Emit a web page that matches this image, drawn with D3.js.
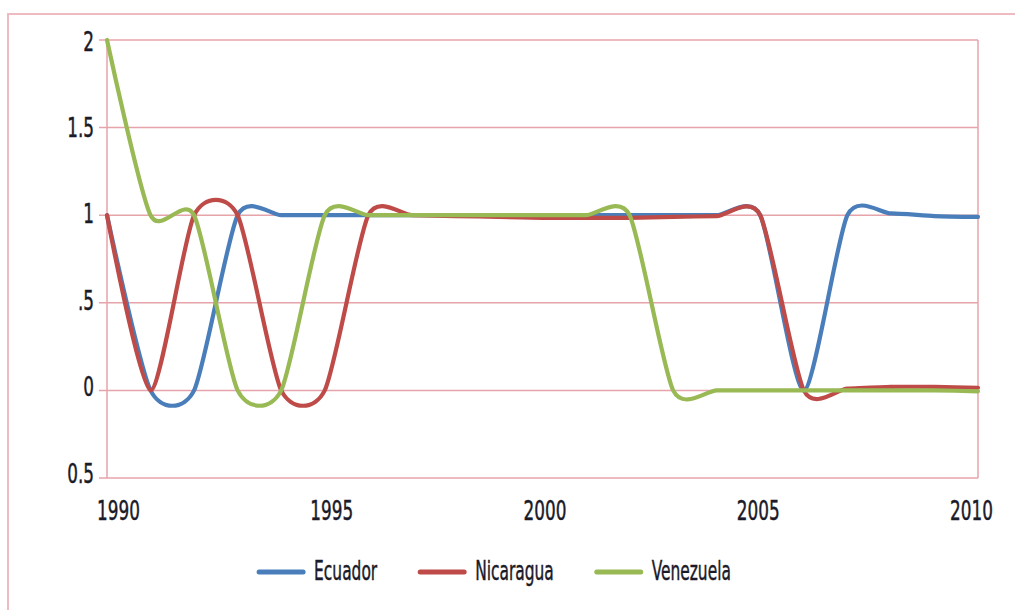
<!DOCTYPE html>
<html>
<head>
<meta charset="utf-8">
<script src="https://cdn.jsdelivr.net/npm/d3@7"></script>
<style>
  html, body { margin: 0; padding: 0; background: #fff; }
  svg { display: block; }
  text { font-family: "DejaVu Sans Condensed", "Liberation Sans Narrow", sans-serif; fill: #1a1a28; stroke: #1a1a28; stroke-width: 0.45px; }
</style>
</head>
<body>
<svg id="chart" width="1015" height="610"></svg>
<script>
// ---- data ----
const years = [1990,1991,1992,1993,1994,1995,1996,1997,1998,1999,2000,2001,2002,2003,2004,2005,2006,2007,2008,2009,2010];
const ecuador   = [1,0,0,1,1,1,1,1,1,1,1,1,1,1,1,1,0,1,1.01,0.995,0.99];
const nicaragua = [1,0,1,1,0,0,1,1,0.995,0.99,0.985,0.985,0.985,0.99,0.995,1,0,0.01,0.02,0.02,0.015];
const venezuela = [2,1,1,0,0,1,1,1,1,1,1,1,1,0,0,0,0,0,0,0,-0.005];
const seriesNames = ["Ecuador","Nicaragua","Venezuela"];
const seriesColors = ["#4a7ebb","#be4b48","#98b954"];
const yTickValues = [-0.5,0,0.5,1,1.5,2];
const yTickLabels = ["0.5","0",".5","1","1.5","2"];
const xTickValues = [1990,1995,2000,2005,2010];
const xTickLabels = ["1990","1995","2000","2005","2010"];

const series = [ecuador, nicaragua, venezuela];

const svg = d3.select("#chart");
const W = 1015, H = 610;
const plot = {left: 107, right: 978, top: 40, bottom: 478};

svg.append("rect").attr("width", W).attr("height", H).attr("fill", "#fff");

// outer frame
svg.append("path")
  .attr("d", `M1016,14 H8 V611`)
  .attr("fill", "none").attr("stroke", "#eebcc0").attr("stroke-width", 2);

const x = d3.scaleLinear().domain([1990, 2010]).range([plot.left, plot.right]);
const y = d3.scaleLinear().domain([-0.5, 2]).range([plot.bottom, plot.top]);
// label placement scales (labels in the reference sit slightly apart from the gridlines)
const xl = d3.scaleLinear().domain([1990, 2010]).range([118, 971]);
const yl = d3.scaleLinear().domain([-0.5, 2]).range([482, 50]);

const gridColor = "#e6a3aa";
const tickScale = 0.72;
const legendScale = 0.66;

// gridlines (with small left tick)
svg.append("g").selectAll("line").data(yTickValues).join("line")
  .attr("x1", plot.left - 8).attr("x2", plot.right)
  .attr("y1", d => y(d)).attr("y2", d => y(d))
  .attr("stroke", gridColor).attr("stroke-width", 1.5);

// plot border left & right
svg.append("line").attr("x1", plot.left).attr("x2", plot.left)
  .attr("y1", plot.top).attr("y2", plot.bottom)
  .attr("stroke", gridColor).attr("stroke-width", 1.5);
svg.append("line").attr("x1", plot.right).attr("x2", plot.right)
  .attr("y1", plot.top).attr("y2", plot.bottom)
  .attr("stroke", gridColor).attr("stroke-width", 1.5);

// y labels via axis
const yAxis = d3.axisLeft(yl).tickValues(yTickValues)
  .tickFormat((d, i) => yTickLabels[i]).tickSize(0).tickPadding(0);
const gy = svg.append("g").attr("transform", "translate(94,0)").call(yAxis);
gy.select(".domain").remove();
gy.selectAll("text")
  .attr("font-size", 26).attr("fill", "#1a1a28")
  .attr("dy", 0).attr("y", 0).attr("x", 0)
  .attr("transform", `scale(${tickScale},1)`)
  .style("dominant-baseline", "alphabetic");

// x labels via axis
const xAxis = d3.axisBottom(xl).tickValues(xTickValues)
  .tickFormat((d, i) => xTickLabels[i]).tickSize(0).tickPadding(0);
const gx = svg.append("g").attr("transform", "translate(0,520)").call(xAxis);
gx.select(".domain").remove();
gx.selectAll("text")
  .attr("font-size", 26).attr("fill", "#1a1a28")
  .attr("dy", 0).attr("y", 0)
  .attr("transform", `scale(${tickScale},1)`)
  .style("dominant-baseline", "alphabetic");

// lines
const line = d3.line()
  .x((d, i) => x(years[i]))
  .y(d => y(d))
  .curve(d3.curveCardinal.tension(0.3));

svg.append("g").selectAll("path").data(series).join("path")
  .attr("d", d => line(d))
  .attr("fill", "none")
  .attr("stroke", (d, i) => seriesColors[i])
  .attr("stroke-width", 4.2)
  .attr("stroke-linejoin", "round")
  .attr("stroke-linecap", "round");

// legend
const legend = svg.append("g");
let cursor = 0;
seriesNames.forEach((name, i) => {
  const g = legend.append("g");
  g.append("line").attr("x1", cursor).attr("x2", cursor + 44)
    .attr("y1", 572).attr("y2", 572)
    .attr("stroke", seriesColors[i]).attr("stroke-width", 5).attr("stroke-linecap", "round");
  const t = g.append("text").text(name)
    .attr("font-size", 26)
    .attr("transform", `translate(${cursor + 55},580) scale(${legendScale},1)`);
  const w = t.node().getComputedTextLength() * legendScale;
  cursor += 55 + w + 43;
});
const total = cursor - 43;
legend.attr("transform", `translate(${495 - total / 2},0)`);
</script>
</body>
</html>
